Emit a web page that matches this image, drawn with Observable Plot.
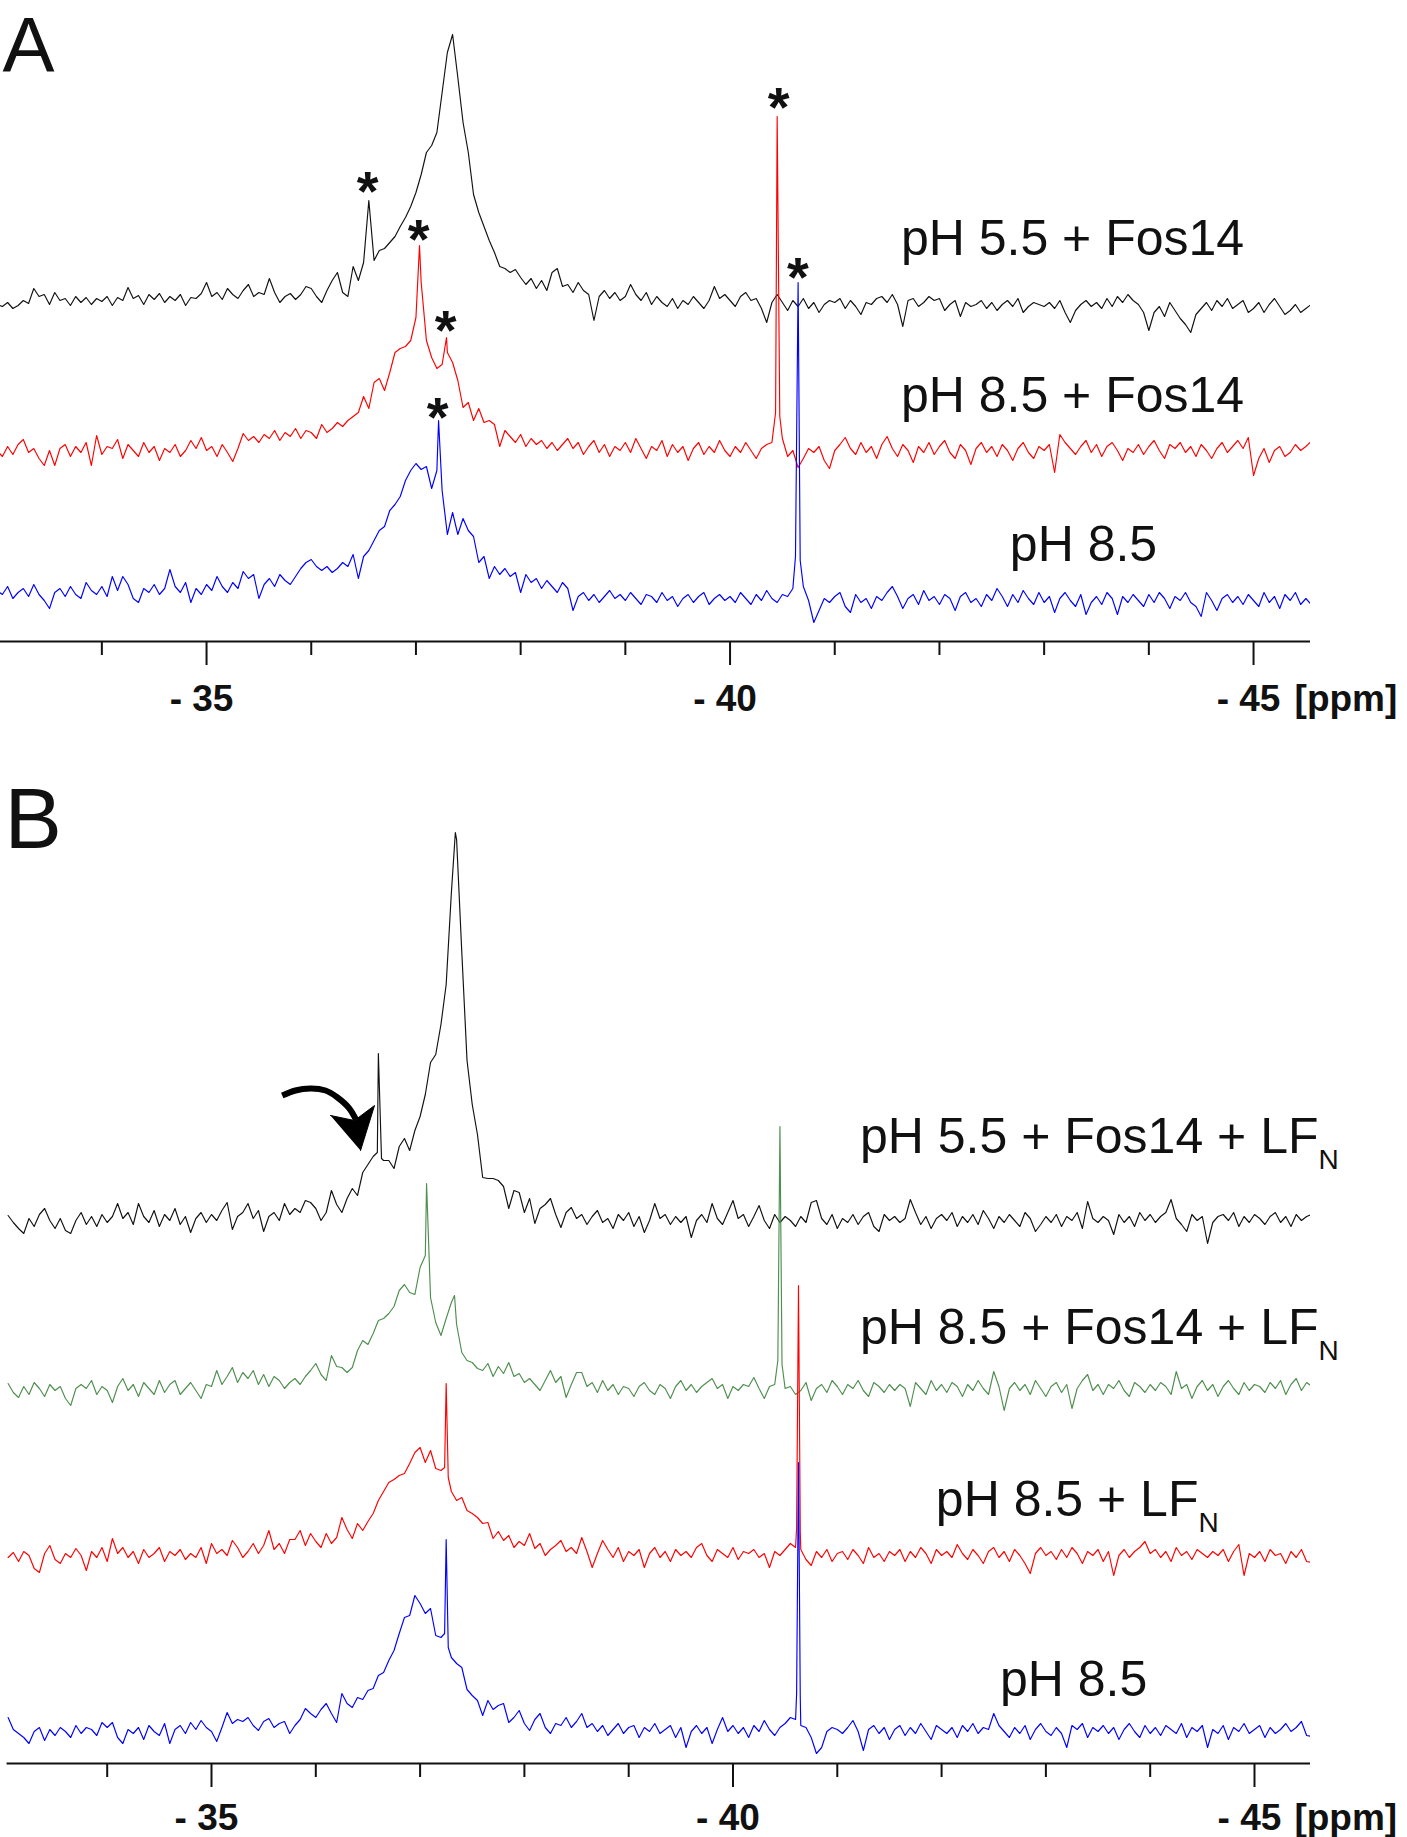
<!DOCTYPE html>
<html>
<head>
<meta charset="utf-8">
<title>NMR spectra A / B</title>
<script src="https://cdn.jsdelivr.net/npm/d3@7"></script>
<script src="https://cdn.jsdelivr.net/npm/@observablehq/plot@0.6"></script>
<style>
html,body{margin:0;padding:0;background:#fff;}
#chart{width:1407px;}
#chart svg{display:block;}
</style>
</head>
<body>
<div id="chart"></div>
<script>
// ---------------- DATA ----------------
// chemical-shift grid (ppm) of the sampled spectra
const ppmStep = 0.05;
const gridStartA = -33.00;
const gridStartB = -33.05;

// Panel A — intensities (arbitrary units)
const blackA = [
 -2,-4,0,-6,-3,2,-1,14,6,8, -2,10,2,4,-3,6,0,5,-2,4, 1,6,-3,5,2,15,4,7,-2,8, 3,9,0,6,2,8,-3,5,4,9,
 20,6,10,3,14,8,4,12,18,6, 10,8,24,10,0,6,9,3,8,16, 14,6,0,12,22,30,10,6,36,22,
 40,102,42,52,54,60,66,76,85,96, 110,128,150,157,170,210,250,268,225,180, 150,108,90,76,62,50,36,34,30,33,
 25,18,24,14,22,12,30,34,16,18, 10,20,12,8,-18,6,12,4,10,2, 6,18,8,2,10,-2,6,0,-4,4,
 -6,2,-2,6,0,-6,2,16,4,8, 2,-4,6,10,2,4,-6,-20,0,8, 0,-8,2,-4,4,-6,0,-10,-2,2,
 0,4,-6,2,-4,-12,0,-2,4,6, 0,8,-2,-24,2,4,-4,0,6,2, 4,-8,-2,2,-14,0,-4,-2,2,-6,
 0,-8,-2,2,-4,4,-10,-4,0,-2, -4,0,-6,2,-10,-20,-8,-2,2,-4, 0,-6,4,-4,6,0,8,2,-2,-10,
 -28,-10,-4,-14,0,-8,-16,-22,-30,-12, -6,0,-8,2,-4,4,-6,-2,2,-10, -6,0,-10,-2,4,-4,-12,-8,-2,-10,-6,-2
];
const redA = [
 2,-4,6,-2,8,13,0,4,-6,-13, 2,-13,4,8,-4,6,0,10,-13,17, -2,6,4,13,-6,8,2,-4,10,0, 6,-8,4,0,8,-4,2,12,4,15,
 2,6,-4,8,0,-9,4,19,12,16, 10,18,14,22,12,20,16,24,14,22, 20,14,28,20,24,30,26,32,36,40,
 56,44,70,74,62,80,100,104,106,112, 135,170,112,95,84,88,100,90,72,45, 50,32,44,30,32,28,6,22,16,10,
 18,6,14,8,12,4,10,2,8,14, 4,10,-2,6,12,0,8,-4,6,2, 10,0,14,4,-6,6,2,12,-4,8,
 0,6,-8,4,10,-2,6,0,12,2, -4,6,0,10,2,-6,4,8,10,336, 14,-4,2,-15,-6,4,0,6,-8,-16,
 2,8,15,4,-2,10,0,6,-6,8, 16,4,-4,8,2,-10,6,0,10,-2, 6,12,0,-6,8,2,-12,4,10,0,
 6,-4,8,2,-8,4,10,0,-6,6, 2,8,-20,18,10,4,-2,6,12,0, 8,-4,6,10,2,-8,4,0,8,-2,
 6,12,2,-6,8,4,10,0,6,-4, 8,2,-6,4,10,0,6,12,4,15, -23,-6,4,-10,2,6,-4,0,8,2,6,11
];
const blueA = [
 6,2,10,-2,4,8,0,12,2,-4, -12,4,8,0,10,2,-2,14,6,2, 10,0,20,6,20,12,-2,-6,8,4, 12,2,8,27,10,4,14,-6,8,2,
 12,6,20,10,4,14,8,25,18,22, -2,12,18,10,22,16,12,20,28,34, 37,30,26,30,24,28,34,30,42,18,
 40,46,56,66,70,86,92,100,116,126, 133,127,130,108,126,106,62,84,62,78, 66,60,34,40,18,30,22,28,20,24,
 4,22,14,18,8,16,10,4,14,8, -14,0,4,-4,2,-6,0,6,-2,2, -4,4,-2,-8,2,0,-6,4,-4,0,
 -10,-2,2,-6,0,4,-8,-2,2,-4, 0,-6,4,-2,-8,2,-4,6,-2,-6, 2,0,8,314,10,-4,-26,-14,-2,-6,
 0,4,-10,-16,2,-6,-2,-12,0,-4, 4,10,0,-12,-2,2,-8,6,-4,0, -8,2,-2,-14,0,4,-6,-2,-10,2,
 -4,8,0,-10,2,-6,6,-2,-8,4, -6,0,-16,-2,4,-4,-10,2,-18,-6, 0,-8,4,-2,-18,0,-6,2,-4,-10,
 2,-6,4,-2,-12,0,-4,4,-6,-10, -20,4,-4,-14,-2,2,-6,0,-8,2, -4,-10,4,-6,0,-12,2,-4,4,-8,-2,-8
];
// narrow resonances between grid samples: [ppm, intensity]
const peaksRedA = [[-37.034, 207], [-37.292, 115], [-40.435, 40], [-40.475, 36]];
const peaksBlueA = [[-37.216, 176], [-40.625, 40], [-40.67, 36]];
const peaksBlackA = [];

// Panel B
const blackB = [
 7,0,-6,-11,4,-4,8,14,2,-6, 4,-8,-11,2,10,-2,6,-4,8,0, 6,19,4,10,-2,19,6,0,12,-4, 8,2,14,-2,6,-10,4,10,0,8,
 2,12,20,-7,6,10,19,4,12,-9, 6,10,2,19,8,14,10,22,20,14, 2,10,32,18,10,24,34,27,50,58,
 66,169,62,62,54,76,84,72,92,106, 128,160,168,198,238,330,383,270,162,118, 88,45,44,44,42,36,14,32,30,10,
 24,-1,14,18,24,8,-5,10,15,4, 8,-2,6,12,0,4,-6,8,2,10, -4,6,-10,2,19,4,8,-2,6,0,
 6,-15,2,8,0,19,4,-2,10,22, 4,8,-4,6,17,2,-6,8,0,6, 2,-4,6,0,20,22,4,-2,8,-6,
 4,0,8,-2,6,10,-4,-9,8,2, 6,0,4,23,10,-2,6,-6,4,8, 2,10,-4,6,0,8,-2,12,4,-6,
 6,0,8,2,-4,10,4,-9,-2,6, 0,8,-4,6,2,10,-6,21,4,0, 6,2,-12,8,0,6,-4,10,2,8,
 0,6,10,23,4,-2,-9,8,2,6, -21,0,6,8,2,10,-4,6,0,8, 4,-2,6,10,0,6,-4,8,2,6,8
];
const greenB = [
 7,-2,-7,4,-4,8,2,-6,6,0, 4,-8,-15,2,6,2,10,-4,4,0, -12,4,12,0,6,-6,8,2,-4,10, -2,6,10,-4,2,8,0,-8,6,4,
 20,6,14,23,8,18,12,20,6,16, 4,14,10,2,8,12,6,14,20,27, 16,10,35,24,23,18,23,40,50,46,
 57,70,72,77,84,100,106,98,96,123, 135,93,68,55,72,88,66,38,30,28, 22,20,27,14,24,17,28,14,17,8,
 12,6,0,10,20,8,14,-7,6,18, 18,4,8,-2,10,0,6,-4,4,2, -6,4,8,0,-4,6,2,-8,4,10,
 0,6,-2,4,8,12,2,6,-8,4, 0,6,4,13,2,-8,4,6,264,2, 4,-4,0,8,-10,2,6,-2,10,4,
 -4,6,2,10,0,-6,8,4,-2,6, 0,6,2,-16,8,2,-4,10,0,6, -2,8,4,-6,6,0,10,2,-4,19,
 4,-20,2,8,0,6,-4,10,2,-6, 4,8,-2,6,-18,2,10,16,0,6, -4,6,2,10,0,-6,8,4,-2,6,
 0,8,4,-4,19,2,6,-8,4,10, 0,6,-6,4,10,2,-4,8,0,6, 4,-2,8,2,10,-4,6,12,0,8,4
];
const redB = [
 0,5,-4,6,2,-11,-15,4,12,-2, -6,4,0,9,2,-13,6,0,10,-4, 19,4,10,0,6,-6,8,0,4,10, -4,6,2,8,-2,4,0,10,-6,14,
 4,8,2,17,10,0,6,14,4,12, 27,8,14,4,18,18,27,12,24,16, 10,24,14,20,40,28,19,34,27,36,
 44,57,66,75,78,82,84,94,105,110, 95,107,89,87,174,66,57,60,47,44, 40,34,35,19,26,17,22,10,16,12,
 24,9,14,2,8,12,17,6,10,4, 20,6,-10,4,17,8,0,10,-4,6, 2,8,-10,4,10,0,6,-4,8,2,
 6,0,10,14,2,-4,8,4,0,10, -2,6,4,8,0,4,-10,6,2,8, 14,10,8,-2,-8,6,0,8,-4,4,
 6,-2,8,2,-6,10,0,4,-4,6, 2,8,-4,6,0,10,4,-6,8,2, 6,0,13,4,-2,8,2,-6,6,10,
 0,6,-4,8,2,-6,-16,4,10,2, 6,-2,8,0,10,4,-6,6,2,8, -4,6,-18,2,8,0,6,10,16,4,
 8,0,6,-4,10,2,6,-2,8,4, 0,6,2,8,-4,6,13,-18,4,0, 6,-4,8,2,4,-6,6,0,8,-4,-5
];
const blueB = [
 16,4,0,-4,-10,2,6,-7,4,-2, 6,2,-4,8,0,6,4,-2,11,6, 11,-4,-10,4,0,6,-6,8,2,-2, 10,-10,4,8,0,11,4,13,6,2,
 -8,6,21,10,14,12,16,8,3,12, 15,6,10,12,0,8,14,25,20,16, 24,30,20,11,40,30,26,36,34,43,
 45,58,61,73,83,100,116,118,138,130, 120,125,98,96,194,76,70,66,44,38, 33,18,33,24,28,30,11,16,23,10,
 3,14,20,6,0,10,8,16,6,12, 20,6,10,2,8,-2,4,10,0,6, 8,-4,6,2,10,0,4,8,-4,6,
 -14,2,8,0,6,-10,4,16,2,8, 0,6,-4,8,2,13,4,-2,6,10, 16,14,8,6,-4,-20,-14,2,6,4,
 0,6,13,2,-17,4,8,0,6,-6, 4,8,-2,6,0,10,2,-6,8,4, 0,6,-4,8,2,10,0,6,4,20,
 8,2,-4,6,0,8,-6,4,10,2, -2,6,0,-14,8,4,10,-4,6,2, 8,0,6,-6,4,10,2,-4,8,0,
 6,-2,8,4,0,10,-4,6,2,8, -14,4,0,8,-6,6,2,10,0,4, 8,-4,6,0,4,10,2,6,12,-2,-3
];
const peaksBlackB = [[-36.59, 70], [-36.63, 64], [-37.338, 390]];
const peaksGreenB = [[-37.062, 207], [-37.33, 95], [-40.43, 30], [-40.47, 26]];
const peaksRedB = [[-37.235, 90], [-37.27, 80], [-40.61, 30], [-40.628, 272], [-40.645, 26]];
const peaksBlueB = [[-37.235, 100], [-37.27, 86], [-40.61, 40], [-40.628, 271], [-40.645, 36]];

// axis ticks (ppm)
const majorTicks = [-35, -40, -45];
const minorTicks = [-34, -36, -37, -38, -39, -41, -42, -43, -44];
const unitLabel = "[ppm]";

// trace labels
const labelsA = ["pH 5.5 + Fos14", "pH 8.5 + Fos14", "pH 8.5"];
const labelsB = ["pH 5.5 + Fos14 + LF", "pH 8.5 + Fos14 + LF", "pH 8.5 + LF"];
const subLabelB = "N";
const lastLabelB = "pH 8.5";

// ---------------- LAYOUT / STYLE ----------------
const FONT = "'Liberation Sans', Arial, Helvetica, sans-serif";
const colors = {black: "#111111", red: "#ff0000", blue: "#0000ff", green: "#4e8e4e"};
// vertical stacking offsets of the spectra (intensity units)
const offA = {black: 339, red: 189, blue: 45};
const offB = {black: 541, green: 373, red: 206, blue: 30};
const labelPosA = [{ppm: -43.271, v: 387}, {ppm: -43.271, v: 230}, {ppm: -43.376, v: 81}];
const labelPosB = [{ppm: -45.614, v: 611, vs: 595}, {ppm: -45.614, v: 420, vs: 404}, {ppm: -44.463, v: 248, vs: 232}];
const lastLabelPosB = {ppm: -43.265, v: 68};
const starsA = [
  {ppm: -36.538, v: 432}, {ppm: -37.025, v: 384}, {ppm: -37.283, v: 293},
  {ppm: -37.206, v: 206}, {ppm: -40.463, v: 516}, {ppm: -40.649, v: 346}
];
const arrowShaft = [
  {ppm: -35.678, v: 668}, {ppm: -35.805, v: 673}, {ppm: -35.949, v: 675}, {ppm: -36.093, v: 673},
  {ppm: -36.208, v: 666}, {ppm: -36.314, v: 656}, {ppm: -36.385, v: 644}
];
const arrowHead = [
  {ppm: -36.141, v: 648}, {ppm: -36.371, v: 643}, {ppm: -36.563, v: 658}, {ppm: -36.429, v: 613}
];

function trace(values, start, extras, offset) {
  const pts = values.map((v, i) => ({ppm: start - ppmStep * i, v: v + offset}));
  extras.forEach(([p, v]) => pts.push({ppm: p, v: v + offset}));
  pts.sort((a, b) => b.ppm - a.ppm);
  return pts;
}

function axisMarks(ruleStart, ruleEnd, unitPpm, labelDrop) {
  return [
    Plot.ruleY([{a: ruleStart, b: ruleEnd}], {x1: "a", x2: "b", y: () => 0, stroke: "#111", strokeWidth: 2}),
    Plot.ruleX(minorTicks, {x: d => d, y1: 0, y2: -14, stroke: "#111", strokeWidth: 2}),
    Plot.ruleX(majorTicks, {x: d => d, y1: 0, y2: -24, stroke: "#111", strokeWidth: 2}),
    Plot.text(majorTicks, {x: d => d, y: -labelDrop, text: d => "- " + Math.abs(d), dx: -5,
      fontSize: 37, fontWeight: "bold", fontFamily: FONT, lineAnchor: "bottom", textAnchor: "middle", fill: "#111"}),
    Plot.text([{ppm: unitPpm, t: unitLabel}], {x: "ppm", y: () => -labelDrop, text: "t",
      fontSize: 37, fontWeight: "bold", fontFamily: FONT, lineAnchor: "bottom", textAnchor: "start", fill: "#111"})
  ];
}

const lineOpts = (color) => ({x: "ppm", y: "v", stroke: color, strokeWidth: 1.15, clip: true});

// ---------------- PANEL A ----------------
const panelA = Plot.plot({
  width: 1407, height: 735,
  marginLeft: 0, marginRight: 97, marginTop: 0, marginBottom: 94,
  x: {domain: [-33.032, -45.544], axis: null},
  y: {domain: [0, 641], axis: null},
  style: {fontFamily: FONT, background: "#fff", overflow: "visible"},
  marks: [
    Plot.line(trace(blackA, gridStartA, peaksBlackA, offA.black), lineOpts(colors.black)),
    Plot.line(trace(redA, gridStartA, peaksRedA, offA.red), lineOpts(colors.red)),
    Plot.line(trace(blueA, gridStartA, peaksBlueA, offA.blue), lineOpts(colors.blue)),
    Plot.text(starsA, {x: "ppm", y: "v", text: () => "*", fontSize: 56, fontWeight: "bold",
      fontFamily: FONT, lineAnchor: "bottom", textAnchor: "middle", fill: "#111"}),
    Plot.text(labelsA.map((t, i) => ({t, ...labelPosA[i]})), {x: "ppm", y: "v", text: "t",
      fontSize: 50, fontFamily: FONT, lineAnchor: "bottom", textAnchor: "middle", fill: "#111"}),
    Plot.text([{t: "A"}], {text: "t", frameAnchor: "top-left", dx: 2, dy: 16, lineAnchor: "top",
      textAnchor: "start", fontSize: 78, fontFamily: FONT, fill: "#111"}),
    ...axisMarks(-33.032, -45.544, -45.392, 69)
  ]
});

// ---------------- PANEL B ----------------
const panelB = Plot.plot({
  width: 1407, height: 1102,
  marginLeft: 0, marginRight: 97, marginTop: 0, marginBottom: 74,
  x: {domain: [-32.977, -45.537], axis: null},
  y: {domain: [0, 1028], axis: null},
  style: {fontFamily: FONT, background: "#fff", overflow: "visible"},
  marks: [
    Plot.line(trace(blackB, gridStartB, peaksBlackB, offB.black), lineOpts(colors.black)),
    Plot.line(trace(greenB, gridStartB, peaksGreenB, offB.green), lineOpts(colors.green)),
    Plot.line(trace(redB, gridStartB, peaksRedB, offB.red), lineOpts(colors.red)),
    Plot.line(trace(blueB, gridStartB, peaksBlueB, offB.blue), lineOpts(colors.blue)),
    Plot.line(arrowShaft, {x: "ppm", y: "v", curve: "natural", stroke: "#000", strokeWidth: 6, strokeLinecap: "butt"}),
    Plot.line(arrowHead, {x: "ppm", y: "v", fill: "#000", stroke: "#000", strokeWidth: 1}),
    Plot.text(labelsB.map((t, i) => ({t, ...labelPosB[i]})), {x: "ppm", y: "v", text: "t",
      fontSize: 50, fontFamily: FONT, lineAnchor: "bottom", textAnchor: "end", fill: "#111"}),
    Plot.text(labelsB.map((t, i) => ({t: subLabelB, ...labelPosB[i]})), {x: "ppm", y: "vs", text: "t",
      fontSize: 28, fontFamily: FONT, lineAnchor: "bottom", textAnchor: "start", fill: "#111"}),
    Plot.text([{t: lastLabelB, ...lastLabelPosB}], {x: "ppm", y: "v", text: "t",
      fontSize: 50, fontFamily: FONT, lineAnchor: "bottom", textAnchor: "middle", fill: "#111"}),
    Plot.text([{t: "B"}], {text: "t", frameAnchor: "top-left", dx: 4, dy: 51, lineAnchor: "top",
      textAnchor: "start", fontSize: 86, fontFamily: FONT, fill: "#111"}),
    ...axisMarks(-33.04, -45.537, -45.383, 66)
  ]
});

const chart = document.getElementById("chart");
chart.appendChild(panelA);
chart.appendChild(panelB);
</script>
</body>
</html>
